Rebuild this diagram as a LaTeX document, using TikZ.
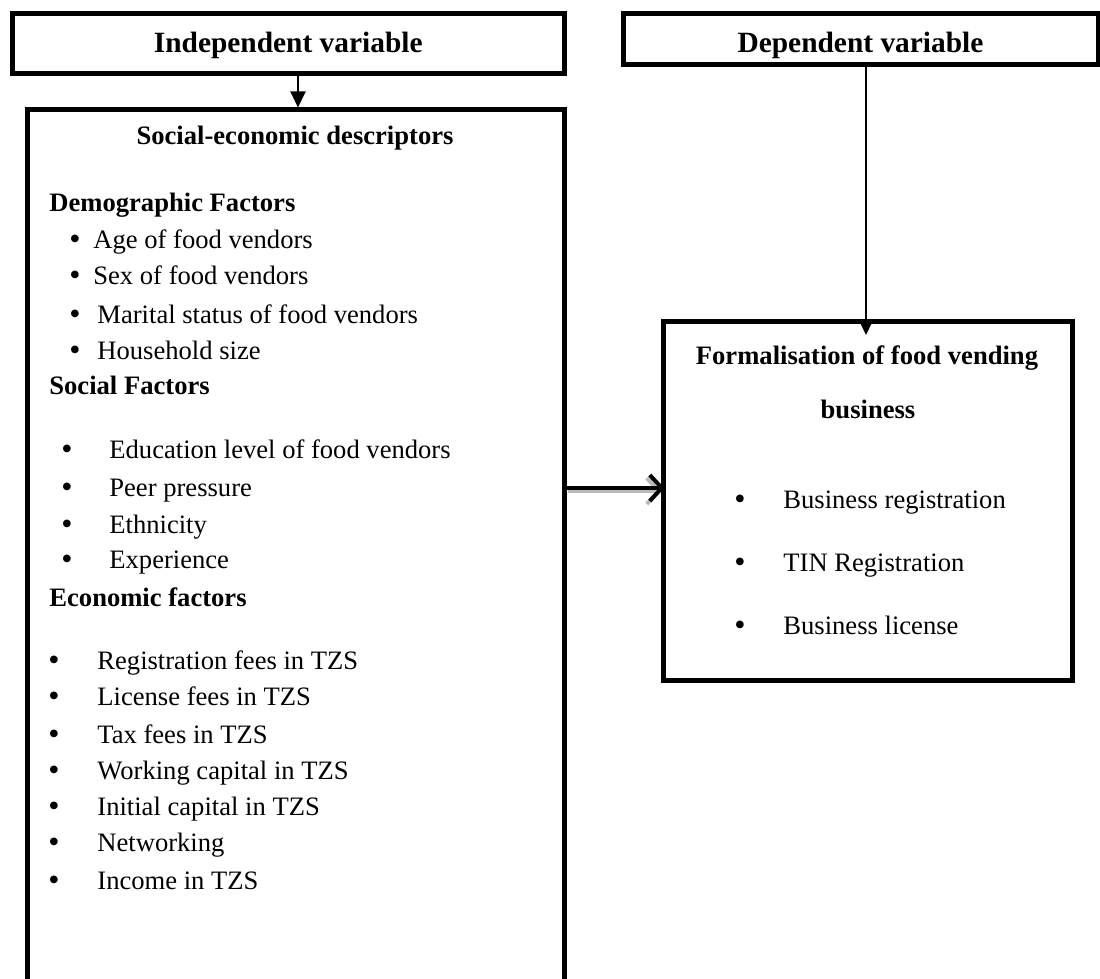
\documentclass[tikz,border=0pt]{standalone}
\usepackage{fontspec}
\setmainfont{Liberation Serif}
\usetikzlibrary{arrows.meta}
\definecolor{cshadow}{RGB}{185,185,185}

\begin{document}
\begin{tikzpicture}[x=0.5pt,y=-0.5pt,
  head/.style={anchor=west,inner sep=0pt,text height=8.9pt,text depth=2.8pt,font=\fontsize{13.3}{13.3}\selectfont\bfseries},
  item/.style={anchor=west,inner sep=0pt,text height=8.9pt,text depth=2.8pt,font=\fontsize{13.3}{13.3}\selectfont},
  bul/.style={inner sep=0pt,font=\fontsize{16}{16}\selectfont}]

\useasboundingbox (0,0) rectangle (1100,979);
\clip (0,0) rectangle (1100,979);

% boxes
\begin{scope}[every node/.style={draw,line width=2.5pt,rectangle,inner sep=0pt,font=\fontsize{14.7}{14.7}\selectfont\bfseries}]
\node[minimum width=275.75pt,minimum height=30pt,text height=10pt,text depth=1.3pt] (indep) at (288.25,44) {Independent variable};
\node[minimum width=237.5pt,minimum height=25.5pt,text height=13pt,text depth=0pt] (dep) at (860.5,39.5) {Dependent variable};
\node[minimum width=268.5pt,minimum height=445pt] (social) at (295.5,555) {};
\node[minimum width=204.5pt,minimum height=179pt] (form) at (867.5,501) {};
\end{scope}

% left box
\node[head,anchor=center] (sedesc) at (295,138) {Social-economic descriptors};

\node[head] (demo) at (49,205) {Demographic Factors};
\node[bul] (dm1) at (75,242) {\textbullet};
\node[item] (age) at (93,242) {Age of food vendors};
\node[bul] (dm2) at (75,278) {\textbullet};
\node[item] (sex) at (93,278) {Sex of food vendors};
\node[bul] (dm3) at (75,317) {\textbullet};
\node[item] (marital) at (97,317) {Marital status of food vendors};
\node[bul] (dm4) at (75,353) {\textbullet};
\node[item] (house) at (97,353) {Household size};

\node[head] (soc) at (49,388) {Social Factors};
\node[bul] (sc1) at (67,452) {\textbullet};
\node[item] (edu) at (109,452) {Education level of food vendors};
\node[bul] (sc2) at (67,490) {\textbullet};
\node[item] (peer) at (109,490) {Peer pressure};
\node[bul] (sc3) at (67,527) {\textbullet};
\node[item] (ethn) at (109,527) {Ethnicity};
\node[bul] (sc4) at (67,562) {\textbullet};
\node[item] (exper) at (109,562) {Experience};

\node[head] (eco) at (49,600) {Economic factors};
\node[bul] (ec1) at (54,663) {\textbullet};
\node[item] (regfee) at (97,663) {Registration fees in TZS};
\node[bul] (ec2) at (54,699) {\textbullet};
\node[item] (licfee) at (97,699) {License fees in TZS};
\node[bul] (ec3) at (54,737) {\textbullet};
\node[item] (taxfee) at (97,737) {Tax fees in TZS};
\node[bul] (ec4) at (54,773) {\textbullet};
\node[item] (workcap) at (97,773) {Working capital in TZS};
\node[bul] (ec5) at (54,809) {\textbullet};
\node[item] (initcap) at (97,809) {Initial capital in TZS};
\node[bul] (ec6) at (54,845) {\textbullet};
\node[item] (netw) at (97,845) {Networking};
\node[bul] (ec7) at (54,883) {\textbullet};
\node[item] (income) at (97,883) {Income in TZS};

% right box
\node[head,anchor=center] (formtitle) at (867,358) {Formalisation of food vending};
\node[head,anchor=center] (formbus) at (868,412) {business};
\node[bul] (fm1) at (740,502) {\textbullet};
\node[item] (busreg) at (783,502) {Business registration};
\node[bul] (fm2) at (740,565) {\textbullet};
\node[item] (tinreg) at (783,565) {TIN Registration};
\node[bul] (fm3) at (740,628) {\textbullet};
\node[item] (buslic) at (783,628) {Business license};

% connectors
\coordinate (ia) at (298,0);
\coordinate (dtip) at (866,335);
\coordinate (mrow) at (0,488);
\coordinate (ma) at (social.east |- mrow);
\coordinate (mb) at (form.west |- mrow);

\begin{scope}[line width=1pt]
\draw[-{Triangle[width=7.5pt,length=8pt]}] (indep.south -| ia) -- (social.north -| ia);
\draw[-{Triangle[width=6pt,length=6.5pt]}] (dep.south -| dtip) -- (dtip);
\end{scope}

\begin{scope}[line width=2pt]
\draw[-{Straight Barb[length=6pt,width=13pt]},color=cshadow] ([shift={(0.5pt,-1.5pt)}]ma) -- ([shift={(0.5pt,-1.5pt)}]mb);
\draw[-{Straight Barb[length=6pt,width=13pt]}] (ma) -- ([xshift=2pt]mb);
\end{scope}

\end{tikzpicture}
\end{document}
